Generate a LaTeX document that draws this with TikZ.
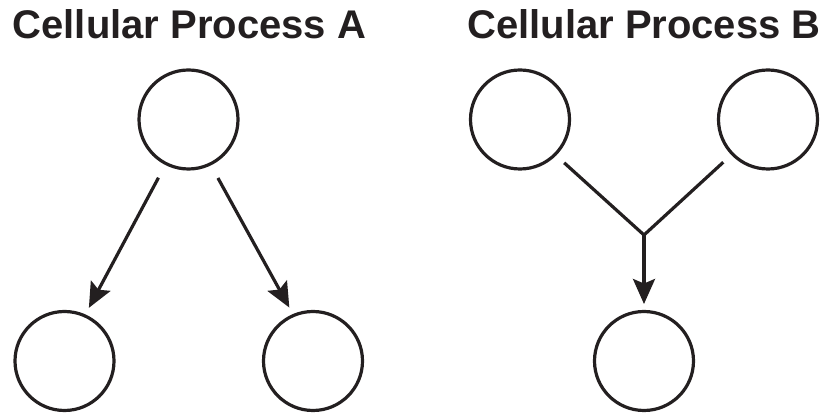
\documentclass[tikz,border=0pt]{standalone}
\usepackage{fontspec}
\setmainfont{Liberation Sans}
\usetikzlibrary{arrows.meta}
\definecolor{ink}{HTML}{231F20}
\begin{document}
\begin{tikzpicture}[x=1pt,y=1pt,
  cell/.style={circle,draw=ink,line width=3.2pt,minimum size=99pt,inner sep=0pt,outer sep=0pt},
  conn/.style={draw=ink,line width=3.2pt},
  arr/.style={conn,-{Stealth[length=25pt,width=22pt,inset=4.5pt]}},
  title/.style={anchor=base,text=ink,font=\fontsize{40}{48}\selectfont\bfseries,inner sep=0pt}]
\useasboundingbox (0,0) rectangle (825,420);
\node[title] (tA) at (189.5,381) {Cellular Process A};
\node[title] (tB) at (644,381) {Cellular Process B};
\node[cell] (topA) at (188.5,300.5) {};
\node[cell] (blA) at (64.5,59) {};
\node[cell] (brA) at (313,59) {};
\node[cell] (tlB) at (520,300.5) {};
\node[cell] (trB) at (768,300.5) {};
\node[cell] (botB) at (644,59) {};
\coordinate (j) at (644,185);
\draw[arr,shorten <=16pt,shorten >=9pt] (topA.243.2) -- (blA.66.5);
\draw[arr,shorten <=16pt,shorten >=9pt] (topA.296.8) -- (brA.113.5);
\draw[conn,shorten <=12.4pt] (tlB.315.3) -- (j);
\draw[conn,shorten <=12.4pt] (trB.224.7) -- (j);
\draw[arr,shorten >=7.5pt] (j) -- (botB.north);
\end{tikzpicture}
\end{document}
